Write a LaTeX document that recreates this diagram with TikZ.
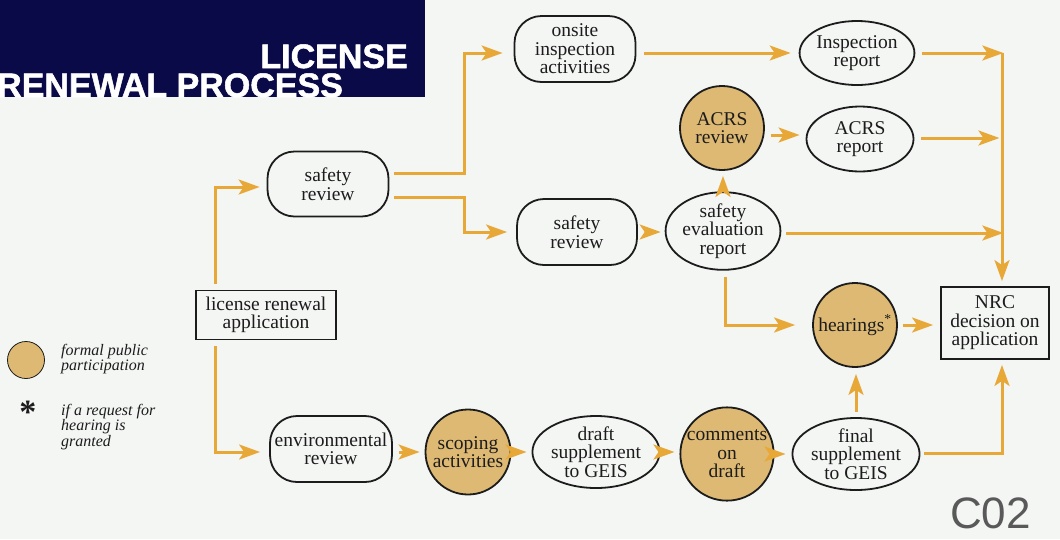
\documentclass[tikz,border=0pt]{standalone}
\usepackage{fontspec}
\setmainfont{Liberation Serif}
\newfontfamily\titlefont{Liberation Sans}[BoldFeatures={FakeBold=1.5}]
\newfontfamily\handfont{Liberation Sans}
\usetikzlibrary{shapes.geometric,arrows.meta,calc}
\definecolor{bgc}{RGB}{244,246,244}
\definecolor{navy}{RGB}{10,10,72}
\definecolor{arrc}{RGB}{232,168,56}
\definecolor{tan}{RGB}{222,185,116}
\definecolor{edge}{RGB}{28,28,28}
\tikzset{
  base/.style={draw=edge, line width=1.8pt, inner sep=0pt, align=center, text=edge,
    font=\fontsize{19.5}{18.5}\selectfont},
  rbox/.style={base, rectangle, rounded corners=27pt},
  sbox/.style={base, rectangle},
  ell/.style={base, ellipse},
  circ/.style={base, circle, fill=tan},
  arr/.style={draw=arrc, line width=3pt, line join=miter,
    -{Stealth[length=21pt,width=15pt,inset=5pt]}},
  legtext/.style={anchor=north west, align=left, text=edge, inner sep=0pt,
    font=\fontsize{16}{15.5}\selectfont\itshape}
}
\begin{document}
\begin{tikzpicture}[x=1pt,y=-1pt]
\useasboundingbox (0,0) rectangle (1060,539);
\fill[bgc] (0,0) rectangle (1060,539);
% title block
\fill[navy] (0,0) rectangle (425,97);
\node[anchor=base east, inner sep=0pt, text=white, font=\titlefont\bfseries\fontsize{34}{34}\selectfont] (t1) at (408,68) {LICENSE};
\node[anchor=base west, inner sep=0pt, text=white, font=\titlefont\bfseries\fontsize{34}{34}\selectfont] (t2) at (-3,97) {RENEWAL PROCESS};
% nodes
\node[rbox, minimum width=121pt, minimum height=66pt] (onsite) at (575,49) {onsite\\inspection\\activities};
\node[ell, minimum width=106pt, minimum height=64pt] (insp) at (857,53) {Inspection\\report};
\node[circ, minimum size=84pt] (acrsr) at (722,128) {ACRS\\review};
\node[ell, minimum width=107pt, minimum height=65pt] (acrsrep) at (860,139) {ACRS\\report};
\node[rbox, minimum width=121pt, minimum height=65pt] (sr1) at (328,184) {safety\\review};
\node[rbox, minimum width=120pt, minimum height=66pt] (sr2) at (577,232) {safety\\review};
\node[ell, minimum width=106pt, minimum height=62pt] (ser) at (723,231) {safety\\evaluation\\report};
\node[sbox, minimum width=140pt, minimum height=49pt] (lra) at (266,315) {license renewal\\application};
\node[circ, minimum size=84pt] (hear) at (855,325) {hearings\textsuperscript{*}};
\node[sbox, minimum width=108pt, minimum height=72pt] (nrc) at (995,323) {NRC\\decision on\\application};
\node[rbox, minimum width=122pt, minimum height=66pt] (env) at (331,449) {environmental\\review};
\node[circ, minimum size=85pt] (scop) at (468,452) {scoping\\activities};
\node[ell, minimum width=106pt, minimum height=63pt] (draft) at (596,452) {draft\\supplement\\to GEIS};
\node[circ, minimum size=84pt] (comm) at (727,454) {comments\\on\\draft};
\node[ell, minimum width=106pt, minimum height=63pt] (final) at (856,454) {final\\supplement\\to GEIS};
\coordinate (jtop) at (1002,53);
% connectors
\draw[arr] ([xshift=-51pt,yshift=6pt]lra.north) |- ([xshift=-7pt,yshift=-3pt]sr1.west);
\draw[arr] ([xshift=-51pt,yshift=-6pt]lra.south) |- ([xshift=-9pt,yshift=-3pt]env.west);
\draw[arr] ([xshift=5pt,yshift=11pt]sr1.east) -- ++(70,0) |- ([xshift=-11pt,yshift=-4pt]onsite.west);
\draw[arr] ([xshift=5pt,yshift=-13pt]sr1.east) -- ++(70,0) |- ([xshift=-9pt]sr2.west);
\draw[arr] ([xshift=8pt,yshift=-4pt]onsite.east) -- ([xshift=-8pt]insp.west);
\draw[arr] ([xshift=7pt]insp.east) -- ++(81,0);
\draw[arr] (jtop) -- ([xshift=7pt,yshift=5pt]nrc.north);
\draw[arr] ([xshift=6pt,yshift=-7pt]acrsr.east) -- ([xshift=-6pt,yshift=4pt]acrsrep.west);
\draw[arr] ([xshift=7pt,yshift=1pt]acrsrep.east) -- ++(78,0);
\draw[arr] (ser.north) -- ($(ser.north |- acrsr.south)+(0,5)$);
\draw[arr] ([xshift=8pt]sr2.east) -- ($(ser.west |- sr2.east)+(-4,0)$);
\draw[arr] ([xshift=5pt,yshift=-2pt]ser.east) -- ++(217,0);
\draw[arr] ([xshift=2pt,yshift=-6pt]ser.south) |- ([xshift=-17pt]hear.west);
\draw[arr] ([xshift=5pt]hear.east) -- ($(nrc.west |- hear.east)+(-7,0)$);
\draw[arr] ([yshift=5pt]final.north) -- ($(final.north |- hear.south)+(0,6)$);
\draw[arr] ([xshift=4pt,yshift=1pt]final.east) -| ($(nrc.south)+(7,5)$);
\draw[arr] ([xshift=6pt,yshift=-3pt]env.east) -- ([xshift=-5pt]scop.west);
\draw[arr] ([xshift=5pt]scop.east) -- ([xshift=-5pt]draft.west);
\draw[arr] ([xshift=5pt]draft.east) -- ($(comm.west |- draft.east)+(-5,0)$);
\draw[arr] ([xshift=4pt]comm.east) -- ($(final.west |- comm.east)+(-6,0)$);
% legend
\node[circle, fill=tan, draw=edge, line width=0.8pt, minimum size=37pt, inner sep=0pt] (legc) at (26,360) {};
\node[legtext] (legt1) at (61,344) {formal public\\participation};
\node[inner sep=0pt, text=edge, font=\fontsize{34}{34}\selectfont\bfseries] (star) at (28,412) {*};
\node[legtext] (legt2) at (61,404) {if a request for\\hearing is\\granted};
\node[anchor=base west, inner sep=0pt, text=black!65, font=\handfont\fontsize{44}{44}\selectfont] (c02) at (950,528) {C02};
\end{tikzpicture}
\end{document}
